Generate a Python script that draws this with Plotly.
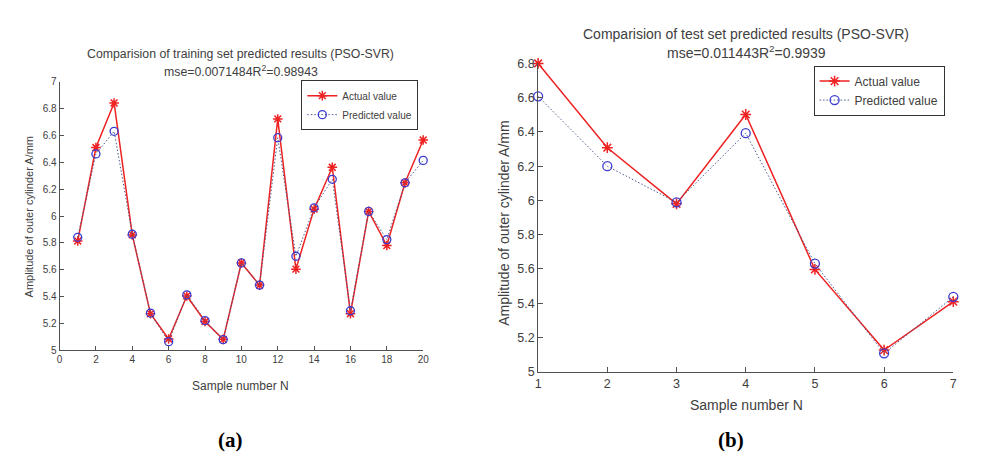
import plotly.graph_objects as go

# ---- data ----
train_n = list(range(1, 21))
train_actual = [5.815, 6.511, 6.843, 5.860, 5.273, 5.085, 5.405, 5.215, 5.082, 5.651,
                5.486, 6.724, 5.605, 6.052, 6.364, 5.273, 6.035, 5.781, 6.248, 6.567]
train_pred = [5.842, 6.463, 6.632, 5.865, 5.278, 5.065, 5.414, 5.222, 5.080, 5.651,
              5.486, 6.584, 5.701, 6.062, 6.274, 5.295, 6.035, 5.825, 6.248, 6.415]

test_n = list(range(1, 8))
test_actual = [6.800, 6.308, 5.980, 6.502, 5.597, 5.126, 5.409]
test_pred = [6.608, 6.200, 5.989, 6.393, 5.631, 5.107, 5.437]

left_title = "Comparision of training set predicted results (PSO-SVR)"
left_sub = "mse=0.0071484R<sup>2</sup>=0.98943"
right_title = "Comparision of test set predicted results (PSO-SVR)"
right_sub = "mse=0.011443R<sup>2</sup>=0.9939"
ylabel = "Amplitude of outer cylinder A/mm"
xlabel = "Sample number N"

W, H = 984, 455
FONT = "Liberation Sans, Arial, sans-serif"
TXT = "#404040"
RED = "#ee2222"
BLUE_LINE = "#4a5a90"
BLUE_MK = "#3b3bd0"
DOT = "1.5px,2px"

def px(x):
    return x / W

def py(y):
    return 1 - y / H

fig = go.Figure()

# left panel traces
fig.add_trace(go.Scatter(x=train_n, y=train_actual, name="Actual value", mode="lines+markers",
                         line=dict(color=RED, width=1.5),
                         marker=dict(symbol="asterisk-open", size=8, color=RED, line=dict(color=RED, width=1.5)),
                         xaxis="x", yaxis="y", legend="legend", cliponaxis=False))
fig.add_trace(go.Scatter(x=train_n, y=train_pred, name="Predicted value", mode="lines+markers",
                         line=dict(color=BLUE_LINE, width=1, dash=DOT),
                         marker=dict(symbol="circle-open", size=8, color=BLUE_MK, line=dict(color=BLUE_MK, width=1.3)),
                         xaxis="x", yaxis="y", legend="legend", cliponaxis=False))
# right panel traces
fig.add_trace(go.Scatter(x=test_n, y=test_actual, name="Actual value", mode="lines+markers",
                         line=dict(color=RED, width=1.5),
                         marker=dict(symbol="asterisk-open", size=9, color=RED, line=dict(color=RED, width=1.5)),
                         xaxis="x2", yaxis="y2", legend="legend2", cliponaxis=False))
fig.add_trace(go.Scatter(x=test_n, y=test_pred, name="Predicted value", mode="lines+markers",
                         line=dict(color=BLUE_LINE, width=1, dash=DOT),
                         marker=dict(symbol="circle-open", size=9, color=BLUE_MK, line=dict(color=BLUE_MK, width=1.3)),
                         xaxis="x2", yaxis="y2", legend="legend2", cliponaxis=False))

axis_common = dict(showline=True, linecolor="#505050", linewidth=1, mirror=False,
                   ticks="inside", tickcolor="#505050", showgrid=False, zeroline=False)

fig.update_layout(
    width=W, height=H,
    margin=dict(l=0, r=0, t=0, b=0),
    paper_bgcolor="white", plot_bgcolor="white",
    font=dict(family=FONT, color=TXT),
    xaxis=dict(domain=[px(49), px(416)], range=[0, 20], dtick=2, tick0=0, ticklen=4,
               anchor="y", tickfont=dict(family=FONT, color=TXT, size=10), **axis_common),
    yaxis=dict(domain=[py(346), py(69)], range=[5, 7], dtick=0.2, tick0=5, ticklen=4,
               anchor="x", tickfont=dict(family=FONT, color=TXT, size=10), **axis_common),
    xaxis2=dict(domain=[px(532), px(951)], range=[1, 7], dtick=1, tick0=1, ticklen=5,
                anchor="y2", tickfont=dict(family=FONT, color=TXT, size=12.5), **axis_common),
    yaxis2=dict(domain=[py(368), py(50)], range=[5, 6.8], dtick=0.2, tick0=5, ticklen=5,
                anchor="x2", tickfont=dict(family=FONT, color=TXT, size=12.5), **axis_common),
    legend=dict(x=px(293), y=py(93), xanchor="left", yanchor="middle",
                bgcolor="white", bordercolor="#333333", borderwidth=1,
                font=dict(family=FONT, size=10, color=TXT), itemwidth=30,
                tracegroupgap=0),
    legend2=dict(x=px(810), y=py(78), xanchor="left", yanchor="middle",
                 bgcolor="white", bordercolor="#333333", borderwidth=1,
                 font=dict(family=FONT, size=12, color=TXT), itemwidth=30,
                 tracegroupgap=0),
    showlegend=True,
)

ann = []
def add_text(text, x, y, size, **kw):
    ann.append(dict(text=text, x=px(x), y=py(y), xref="paper", yref="paper",
                    showarrow=False, xanchor="center", yanchor="middle",
                    font=dict(family=kw.pop("family", FONT), size=size, color=kw.pop("color", TXT)), **kw))

add_text(left_title, 232, 40, 12.3)
add_text(left_sub, 232, 58, 12.3)
add_text(right_title, 742, 20, 14)
add_text(right_sub, 742, 38, 14)
add_text(ylabel, 18, 208, 11, textangle=-90)
add_text(ylabel, 498, 215, 14, textangle=-90)
add_text(xlabel, 232, 383, 12)
add_text(xlabel, 742, 402, 14)
add_text("<b>(a)</b>", 222, 438, 21, family="Liberation Serif, Times New Roman, serif", color="#000000")
add_text("<b>(b)</b>", 727, 438, 21, family="Liberation Serif, Times New Roman, serif", color="#000000")
fig.update_layout(annotations=ann)

fig.write_html("out.html")
